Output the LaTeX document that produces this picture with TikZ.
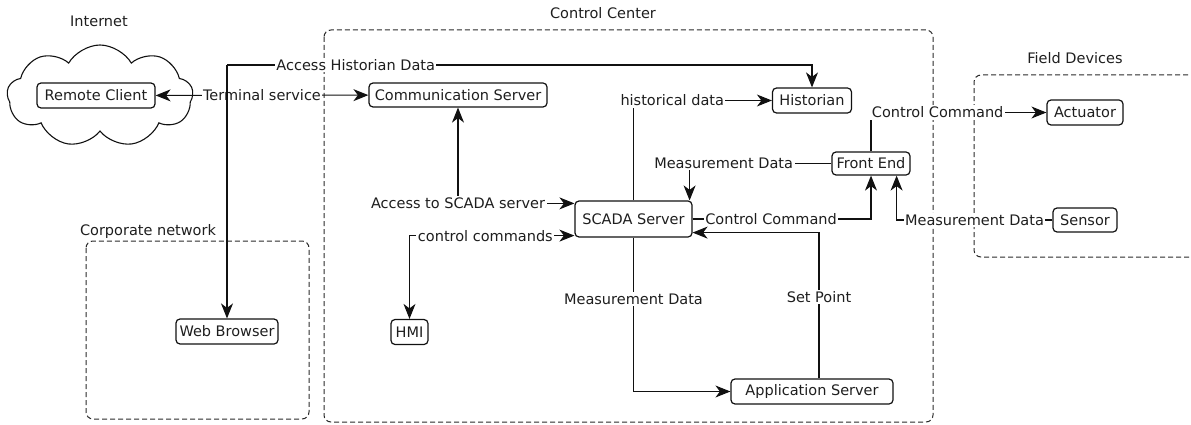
\documentclass[tikz,border=0pt]{standalone}
\usepackage{fontspec}
\setmainfont{DejaVu Sans}
\usetikzlibrary{arrows.meta,shapes.symbols}
\definecolor{ink}{HTML}{111111}
\definecolor{txt}{HTML}{1E1E1E}
\definecolor{grpline}{HTML}{2A2A2A}
\begin{document}
\begin{tikzpicture}[x=1pt,y=-1pt,
  font=\fontsize{14.5}{16}\selectfont,
  box/.style={draw=ink, line width=1.2pt, rounded corners=4pt, inner sep=0pt, text=txt},
  lbl/.style={fill=white, inner sep=1.5pt, text=txt},
  title/.style={text=txt, inner sep=1pt},
  grp/.style={draw=grpline, dash pattern=on 5pt off 3pt, line width=1pt, rounded corners=7pt},
  flow/.style={draw=ink, line width=1.1pt},
  headtip/.tip={Stealth[length=15pt,width=12pt,inset=4.5pt]},
  oneway/.style={flow, -headtip},
  twoway/.style={flow, headtip-headtip}]

\useasboundingbox (0,0) rectangle (1191,425);

% ---- zones ----
\node[cloud, draw=ink, line width=1.1pt, cloud puffs=9, cloud puff arc=120, aspect=1.85,
      minimum width=186pt, minimum height=102pt, inner sep=0pt] (inet) at (100,96) {};
\node[title] (tInternet) at (99,21) {Internet};

\draw[grp] (324,30) rectangle (933,422);
\node[title] (tCenter) at (603,13) {Control Center};

\draw[grp] (86,241) rectangle (309,419);
\node[title] (tCorp) at (148,231) {Corporate network};

\draw[grp] (1196,75) -- (974,75) -- (974,257) -- (1196,257);
\node[title] (tField) at (1075,58) {Field Devices};

% ---- components ----
\node[box, minimum width=118pt, minimum height=25pt] (rc)   at (96,95.5)   {Remote Client};
\node[box, minimum width=178pt, minimum height=24pt] (cs)   at (458,95)    {Communication Server};
\node[box, minimum width=79pt,  minimum height=25pt] (hist) at (812,100.5) {Historian};
\node[box, minimum width=78pt,  minimum height=23pt] (fe)   at (871,163.5) {Front End};
\node[box, minimum width=76pt,  minimum height=25pt] (act)  at (1085,112.5){Actuator};
\node[box, minimum width=64pt,  minimum height=24pt] (sen)  at (1085,220)  {Sensor};
\node[box, minimum width=117pt, minimum height=36pt] (scada) at (633.5,219) {SCADA Server};
\node[box, minimum width=37pt,  minimum height=25pt] (hmi)  at (409.5,332) {HMI};
\node[box, minimum width=162pt, minimum height=25pt] (app)  at (812,391.5) {Application Server};
\node[box, minimum width=102pt, minimum height=25pt] (web)  at (227,331.5) {Web Browser};

% ---- connectors ----
\draw[twoway] (rc) -- (cs) node[lbl, pos=0.5] {Terminal service};

\coordinate (ahsplit) at (227,65);
\draw[oneway] (ahsplit) -- (web);
\draw[oneway] (ahsplit) -| (hist) node[lbl, pos=0.11] {Access Historian Data};

\draw[twoway] (cs) |- ([yshift=-3pt]scada.north west) node[lbl, pos=0.5] {Access to SCADA server};
\draw[twoway] (hmi) |- ([yshift=2pt]scada.south west) node[lbl, pos=0.73] {control commands};

\draw[oneway] (scada) |- (hist) node[lbl, pos=0.64] {historical data};
\draw[oneway] (fe) -| ([xshift=-3pt]scada.north east) node[lbl, pos=0.38] {Measurement Data};
\draw[oneway] (scada) -| (fe) node[lbl, pos=0.22] {Control Command};
\draw[oneway] ([xshift=7pt]app.north) |- ([yshift=5pt]scada.south east) node[lbl, pos=0.28] {Set Point};
\draw[oneway] (scada) |- (app) node[lbl, pos=0.2] {Measurement Data};

\draw[oneway] (fe) |- (act) node[lbl, pos=0.69] {Control Command};
\draw[oneway] (sen) -| ([xshift=-14pt]fe.south east) node[lbl, pos=0.25] {Measurement Data};

\end{tikzpicture}
\end{document}
